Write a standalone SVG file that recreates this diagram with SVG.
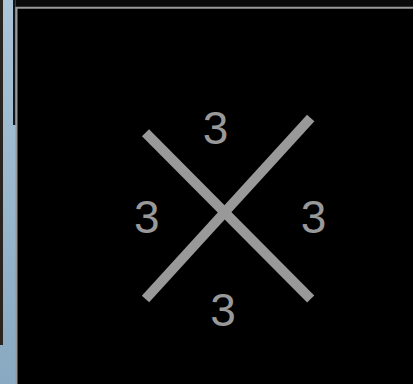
<svg xmlns="http://www.w3.org/2000/svg" width="413" height="384" viewBox="0 0 413 384">
  <defs>
    <linearGradient id="side" x1="0" y1="0" x2="0" y2="1">
      <stop offset="0" stop-color="#abc5d9"/>
      <stop offset="1" stop-color="#88a9c1"/>
    </linearGradient>
    <style>
      .bar { stroke: #999999; stroke-width: 10; stroke-linecap: butt; fill: none; }
      .lbl { font-family: "Liberation Sans", Arial, sans-serif; font-size: 46px; fill: #999999; text-anchor: middle; }
    </style>
  </defs>
  <!-- background -->
  <rect x="0" y="0" width="413" height="384" fill="#000000"/>
  <rect x="0" y="0" width="17" height="384" fill="url(#side)"/>
  <rect x="0" y="0" width="3" height="345" fill="#2a2420"/>
  <rect x="13" y="0" width="2.5" height="125" fill="#15161c"/>
  <rect x="15.5" y="0" width="397.5" height="7" fill="#0a0a0a"/>
  <rect x="16" y="7" width="397" height="377" fill="#000000"/>
  <path d="M16.5 384 V7.8 H413" fill="none" stroke="#9a9a9a" stroke-width="2"/>
  <!-- connectors -->
  <g id="connectors">
    <line class="bar" x1="145.5" y1="132.7" x2="310.7" y2="299"/>
    <line class="bar" x1="310.7" y1="118" x2="145.5" y2="299"/>
  </g>
  <g id="label-top"><text class="lbl" x="215.5" y="144">3</text></g>
  <g id="label-left"><text class="lbl" x="146.8" y="233">3</text></g>
  <g id="label-right"><text class="lbl" x="313.5" y="233">3</text></g>
  <g id="label-bottom"><text class="lbl" x="223" y="326">3</text></g>
</svg>
